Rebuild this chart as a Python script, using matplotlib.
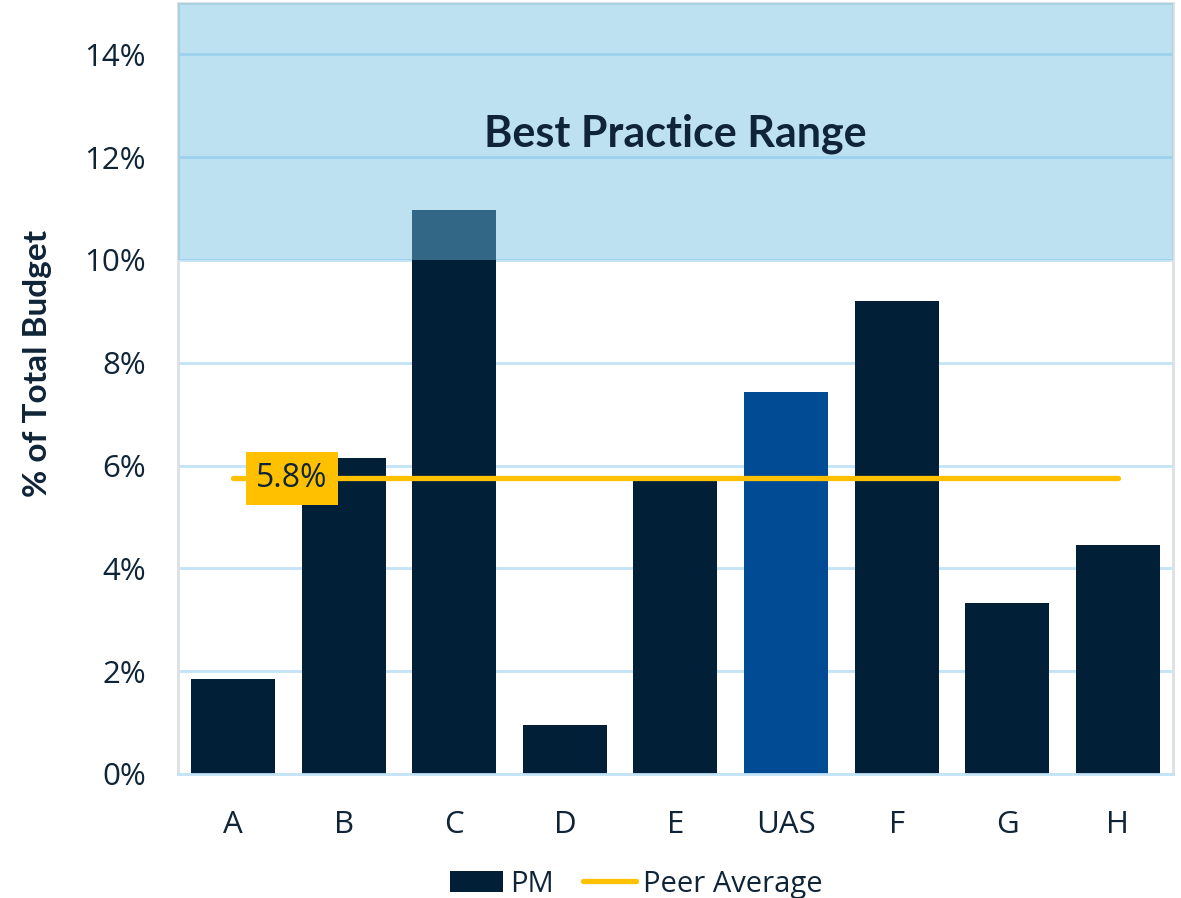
import numpy as np
import matplotlib
matplotlib.use("Agg")
import matplotlib.pyplot as plt
from matplotlib.patches import Patch
from matplotlib.lines import Line2D

# share of total budget spent on PM, per institution (%)
categories = ["A", "B", "C", "D", "E", "UAS", "F", "G", "H"]
pm_share = [1.85, 6.15, 10.97, 0.95, 5.72, 7.44, 9.21, 3.33, 4.46]
highlight = "UAS"
peer_avg = 5.75
peer_label = "5.8%"
best_low, best_high = 10, 15
yticks = [0, 2, 4, 6, 8, 10, 12, 14]

navy = "#012038"
uas_blue = "#004B93"
gold = "#FFC000"
text_col = "#0F2537"
grid_col = "#C3E3F7"

fig = plt.figure(figsize=(11.81, 8.98), dpi=100)
ax = fig.add_axes([0.1507, 0.1381, 0.8425, 0.8586])

x = np.arange(len(categories))
colors = [uas_blue if c == highlight else navy for c in categories]
ax.bar(x, pm_share, width=0.76, color=colors, zorder=2)

# best practice band sits on top of the bars, semi transparent
ax.axhspan(best_low, best_high, color="#6EBEE2", alpha=0.455, lw=0, zorder=3)
ax.text(np.mean(x), 12.45, "Best Practice Range", ha="center", va="center",
        fontsize=31, fontweight="bold", family="Lato", color=text_col, zorder=5)

ax.plot([x[0], x[-1]], [peer_avg, peer_avg], color=gold, lw=3.8,
        solid_capstyle="round", zorder=4)
ax.text(0.53, peer_avg, peer_label, ha="center", va="center", fontsize=23,
        family="Open Sans", color=text_col, zorder=6,
        bbox=dict(boxstyle="square,pad=0.32", fc=gold, ec="none"))

ax.set_xlim(-0.5, len(categories) - 0.5)
ax.set_ylim(0, 15)
ax.set_yticks(yticks)
ax.set_yticklabels([f"{v}%" for v in yticks])
ax.set_xticks(x)
ax.set_xticklabels(categories)
ax.tick_params(length=0, labelsize=22.5, colors=text_col)
ax.tick_params(axis="y", pad=23)
ax.tick_params(axis="x", pad=26)
for lab in ax.get_xticklabels() + ax.get_yticklabels():
    lab.set_family("Open Sans")

ax.yaxis.grid(True, color=grid_col, lw=2, zorder=1)
ax.set_axisbelow(True)
for side in ["left", "right", "top"]:
    ax.spines[side].set_color("#DCE0E5")
    ax.spines[side].set_linewidth(2)
ax.spines["bottom"].set_color(grid_col)
ax.spines["bottom"].set_linewidth(2)

fig.text(0.032, 0.595, "% of Total Budget", rotation=90, ha="center", va="center",
         fontsize=24, fontweight="bold", family="Lato", color=text_col)

handles = [Patch(facecolor=navy, edgecolor="none"),
           Line2D([0], [0], color=gold, lw=3.8, solid_capstyle="round")]
fig.legend(handles, ["PM", "Peer Average"], loc="lower center",
           bbox_to_anchor=(0.539, -0.03), ncol=2, frameon=False,
           prop={"family": "Open Sans", "size": 21}, labelcolor=text_col,
           handlelength=1.8, handletextpad=0.25, columnspacing=1.0)

fig.savefig("out.png", dpi=100)
